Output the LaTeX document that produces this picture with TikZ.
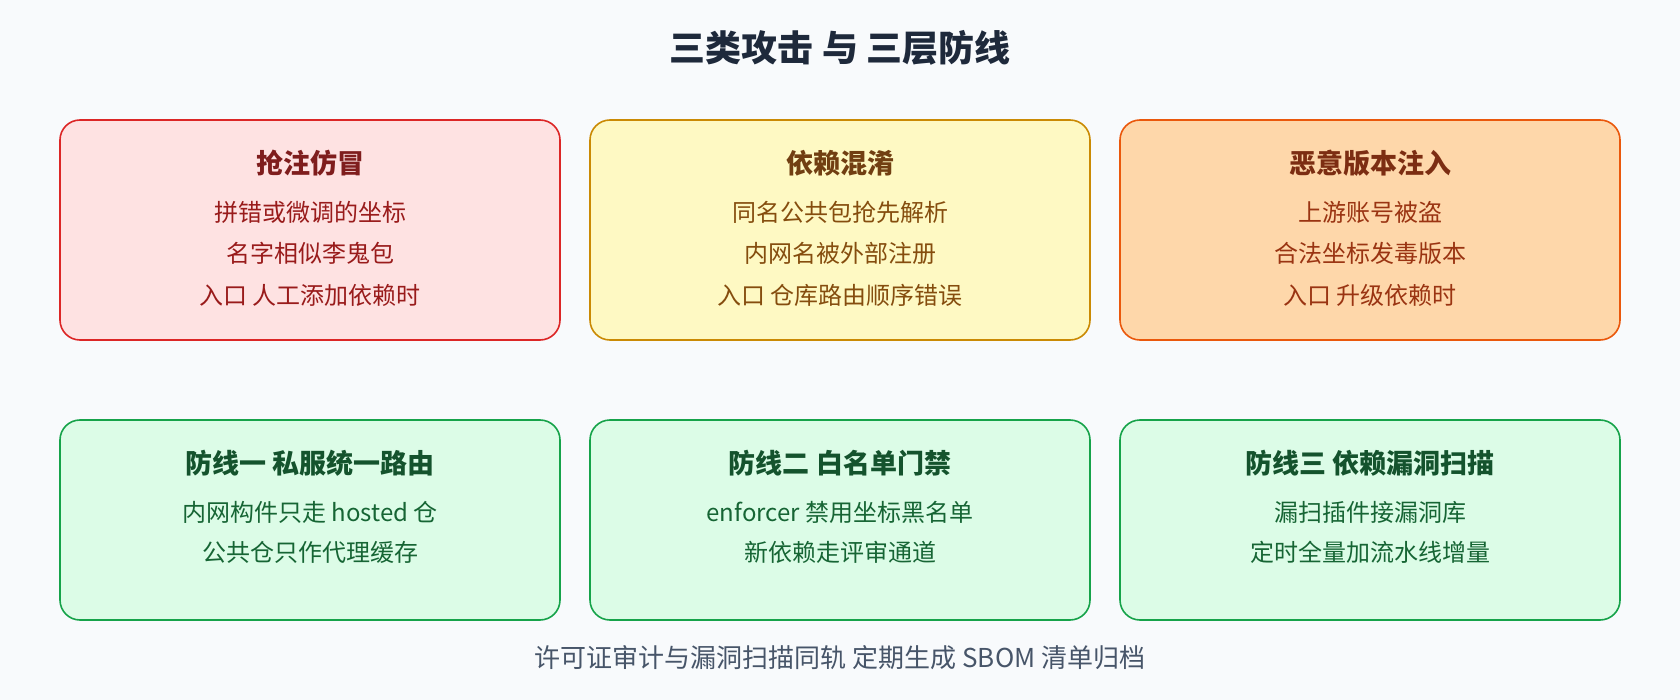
\documentclass[tikz,border=0pt]{standalone}
\usepackage{fontspec}
\setmainfont{Noto Sans CJK SC}
\definecolor{bg}{HTML}{F8FAFC}
\definecolor{ttl}{HTML}{1E293B}
\definecolor{foot}{HTML}{475569}
\definecolor{rfill}{HTML}{FEE2E2}\definecolor{rdraw}{HTML}{DC2626}\definecolor{rhead}{HTML}{7F1D1D}\definecolor{rtext}{HTML}{991B1B}
\definecolor{yfill}{HTML}{FEF9C3}\definecolor{ydraw}{HTML}{CA8A04}\definecolor{yhead}{HTML}{713F12}\definecolor{ytext}{HTML}{854D0E}
\definecolor{ofill}{HTML}{FED7AA}\definecolor{odraw}{HTML}{EA580C}\definecolor{ohead}{HTML}{7C2D12}\definecolor{otext}{HTML}{9A3412}
\definecolor{gfill}{HTML}{DCFCE7}\definecolor{gdraw}{HTML}{16A34A}\definecolor{ghead}{HTML}{14532D}\definecolor{gtext}{HTML}{166534}
\tikzset{
  card/.style={draw, line width=1.6pt, rounded corners=20pt, minimum width=500pt, inner sep=0pt},
  toprow/.style={card, minimum height=220pt},
  botrow/.style={card, minimum height=200pt},
  head/.style={font=\fontsize{27}{31}\selectfont\bfseries, inner sep=0pt, anchor=center},
  body/.style={font=\fontsize{24}{28}\selectfont, inner sep=0pt, anchor=center},
}
\begin{document}
\begin{tikzpicture}[x=1pt,y=-1pt]
\path[fill=bg] (0,0) rectangle (1680,700);
\useasboundingbox (0,0) rectangle (1680,700);
\node[font=\fontsize{36}{42}\selectfont\bfseries, text=ttl, inner sep=0pt] (title) at (840,48) {三类攻击 与 三层防线};
% top row
\node[toprow, fill=rfill, draw=rdraw] (a1) at (310,230) {};
\node[toprow, fill=yfill, draw=ydraw] (a2) at (840,230) {};
\node[toprow, fill=ofill, draw=odraw] (a3) at (1370,230) {};
\node[head, text=rhead] (a1h) at (310,163) {抢注仿冒};
\node[body, text=rtext] (a1l1) at (310,212) {拼错或微调的坐标};
\node[body, text=rtext] (a1l2) at (310,253) {名字相似李鬼包};
\node[body, text=rtext] (a1l3) at (310,295) {入口 人工添加依赖时};
\node[head, text=yhead] (a2h) at (840,163) {依赖混淆};
\node[body, text=ytext] (a2l1) at (840,212) {同名公共包抢先解析};
\node[body, text=ytext] (a2l2) at (840,253) {内网名被外部注册};
\node[body, text=ytext] (a2l3) at (840,295) {入口 仓库路由顺序错误};
\node[head, text=ohead] (a3h) at (1370,163) {恶意版本注入};
\node[body, text=otext] (a3l1) at (1370,212) {上游账号被盗};
\node[body, text=otext] (a3l2) at (1370,253) {合法坐标发毒版本};
\node[body, text=otext] (a3l3) at (1370,295) {入口 升级依赖时};
% bottom row
\node[botrow, fill=gfill, draw=gdraw] (b1) at (310,520) {};
\node[botrow, fill=gfill, draw=gdraw] (b2) at (840,520) {};
\node[botrow, fill=gfill, draw=gdraw] (b3) at (1370,520) {};
\node[head, text=ghead] (b1h) at (310,463) {防线一 私服统一路由};
\node[body, text=gtext] (b1l1) at (310,512) {内网构件只走 hosted 仓};
\node[body, text=gtext] (b1l2) at (310,552) {公共仓只作代理缓存};
\node[head, text=ghead] (b2h) at (840,463) {防线二 白名单门禁};
\node[body, text=gtext] (b2l1) at (840,512) {enforcer 禁用坐标黑名单};
\node[body, text=gtext] (b2l2) at (840,552) {新依赖走评审通道};
\node[head, text=ghead] (b3h) at (1370,463) {防线三 依赖漏洞扫描};
\node[body, text=gtext] (b3l1) at (1370,512) {漏扫插件接漏洞库};
\node[body, text=gtext] (b3l2) at (1370,552) {定时全量加流水线增量};
\node[font=\fontsize{26}{30}\selectfont, inner sep=0pt, text=foot] (footer) at (840,658) {许可证审计与漏洞扫描同轨 定期生成 SBOM 清单归档};
\end{tikzpicture}
\end{document}
